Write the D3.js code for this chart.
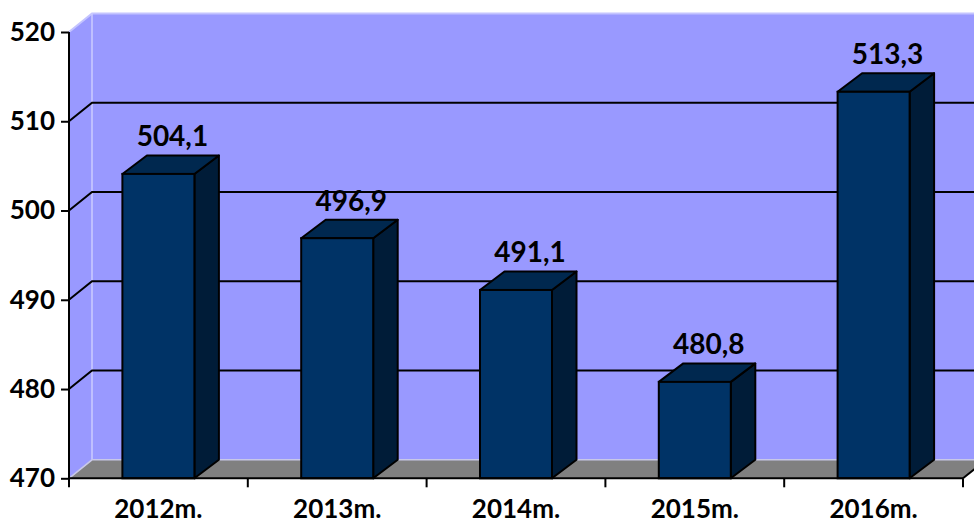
<html>
<head>
<style>
  body { margin: 0; background: #fff; }
  text { font-family: Lato, 'Open Sans', sans-serif; font-weight: bold; fill: #000; }
</style>
</head>
<body>
  <div id = 'chart'></div>
  <script src = 'https://d3js.org/d3.v7.min.js'></script>
  <script>
    var categories = ['2012m.', '2013m.', '2014m.', '2015m.', '2016m.'],
        values = [504.1, 496.9, 491.1, 480.8, 513.3],
        yTicks = [470, 480, 490, 500, 510, 520];

    (function(){
    var width = 974,
        height = 524,
        plotLeft = 69,
        plotRight = 963,
        plotBottom = 478.3,
        plotTop = 32,
        dx = 23,
        dy = 18.5,
        bdx = 24.5,
        fontSize = '26px';

    var svg = d3.select('#chart').append('svg')
                .attr('width', width)
                .attr('height', height);

    var x = d3.scaleBand().domain(categories).range([plotLeft, plotRight]).paddingInner(0).paddingOuter(0);
    var y = d3.scaleLinear().domain([470, 520]).range([plotBottom, plotTop]);
    var barW = 72;

    // back wall
    svg.append('rect')
      .attr('x', plotLeft + dx).attr('y', plotTop - dy)
      .attr('width', plotRight - plotLeft + 10).attr('height', plotBottom - plotTop)
      .attr('fill', '#9999ff');

    // left side wall
    svg.append('path')
      .attr('d', 'M' + plotLeft + ',' + plotBottom + 'L' + plotLeft + ',' + plotTop +
                 'L' + (plotLeft + dx) + ',' + (plotTop - dy) + 'L' + (plotLeft + dx) + ',' + (plotBottom - dy) + 'Z')
      .attr('fill', '#9999ff');

    // wall edges
    svg.append('path')
      .attr('d', 'M' + plotLeft + ',' + plotTop + 'L' + (plotLeft + dx) + ',' + (plotTop - dy) + 'L' + width + ',' + (plotTop - dy))
      .attr('fill', 'none').attr('stroke', '#c4c4ff').attr('stroke-width', 2);
    svg.append('line')
      .attr('x1', plotLeft + dx).attr('x2', plotLeft + dx)
      .attr('y1', plotTop - dy).attr('y2', plotBottom - dy)
      .attr('stroke', '#ccccff').attr('stroke-width', 1.5);

    // gridlines
    yTicks.slice(1, -1).forEach(function(t){
      svg.append('path')
        .attr('d', 'M' + plotLeft + ',' + y(t) + 'L' + (plotLeft + dx) + ',' + (y(t) - dy) + 'L' + width + ',' + (y(t) - dy))
        .attr('fill', 'none').attr('stroke', '#000').attr('stroke-width', 2);
    });

    // floor
    svg.append('path')
      .attr('d', 'M' + plotLeft + ',' + plotBottom + 'L' + (plotLeft + dx) + ',' + (plotBottom - dy) +
                 'L' + (plotRight + dx) + ',' + (plotBottom - dy) + 'L' + plotRight + ',' + plotBottom + 'Z')
      .attr('fill', '#808080');
    svg.append('path')
      .attr('d', 'M' + plotLeft + ',' + plotBottom + 'L' + (plotLeft + dx) + ',' + (plotBottom - dy) + 'L' + width + ',' + (plotBottom - dy))
      .attr('fill', 'none').attr('stroke', '#c8c8e8').attr('stroke-width', 1.5);
    svg.append('line')
      .attr('x1', plotRight).attr('y1', plotBottom).attr('x2', plotRight + dx).attr('y2', plotBottom - dy)
      .attr('stroke', '#000').attr('stroke-width', 2);

    // bars
    var bars = svg.selectAll('g.bar')
      .data(values)
      .enter()
      .append('g')
      .attr('class', 'bar');

    bars.each(function(d, i){
      var g = d3.select(this),
          x0 = x(categories[i]) + x.bandwidth() / 2 - barW / 2,
          x1 = x0 + barW,
          yt = y(d);
      g.append('path')
        .attr('d', 'M' + x1 + ',' + plotBottom + 'L' + (x1 + bdx) + ',' + (plotBottom - dy) +
                   'L' + (x1 + bdx) + ',' + (yt - dy) + 'L' + x1 + ',' + yt + 'Z')
        .attr('fill', '#001c38').attr('stroke', '#000').attr('stroke-width', 2).attr('stroke-linejoin', 'round');
      g.append('path')
        .attr('d', 'M' + x0 + ',' + yt + 'L' + (x0 + bdx) + ',' + (yt - dy) +
                   'L' + (x1 + bdx) + ',' + (yt - dy) + 'L' + x1 + ',' + yt + 'Z')
        .attr('fill', '#00284f').attr('stroke', '#000').attr('stroke-width', 2).attr('stroke-linejoin', 'round');
      g.append('rect')
        .attr('x', x0).attr('y', yt)
        .attr('width', barW).attr('height', plotBottom - yt)
        .attr('fill', '#003366').attr('stroke', '#000').attr('stroke-width', 2);
      g.append('text')
        .attr('x', x0 + barW / 2 + 14)
        .attr('y', yt - dy - 9)
        .attr('text-anchor', 'middle')
        .style('font-size', '28px')
        .text(String(d).replace('.', ','));
    });

    // y axis
    var yAxis = d3.axisLeft(y).tickValues(yTicks).tickSize(8).tickPadding(6);
    var ga = svg.append('g').attr('transform', 'translate(' + plotLeft + ',0)').call(yAxis);
    ga.select('.domain').attr('stroke', '#000').attr('stroke-width', 2).attr('d', 'M0,' + plotTop + 'V' + plotBottom);
    ga.selectAll('.tick line').attr('stroke', '#000').attr('stroke-width', 2);
    ga.selectAll('.tick text').style('font-size', fontSize).style('font-family', 'Lato, sans-serif').attr('font-weight', 'bold');

    // x axis
    var xAxis = d3.axisBottom(x).tickSize(0).tickPadding(21);
    var gx = svg.append('g').attr('transform', 'translate(0,' + plotBottom + ')').call(xAxis);
    gx.select('.domain').attr('stroke', '#000').attr('stroke-width', 2).attr('d', 'M' + plotLeft + ',0H' + plotRight);
    gx.selectAll('.tick text').style('font-size', fontSize).style('font-family', 'Lato, sans-serif').attr('font-weight', 'bold');
    var bounds = d3.range(categories.length + 1).map(function(i){ return plotLeft + i * x.step(); });
    gx.selectAll('line.sep')
      .data(bounds)
      .enter()
      .append('line')
      .attr('class', 'sep')
      .attr('x1', function(d){ return d; }).attr('x2', function(d){ return d; })
      .attr('y1', 0).attr('y2', 9)
      .attr('stroke', '#000').attr('stroke-width', 2);
    })();
  </script>
</body>
</html>
